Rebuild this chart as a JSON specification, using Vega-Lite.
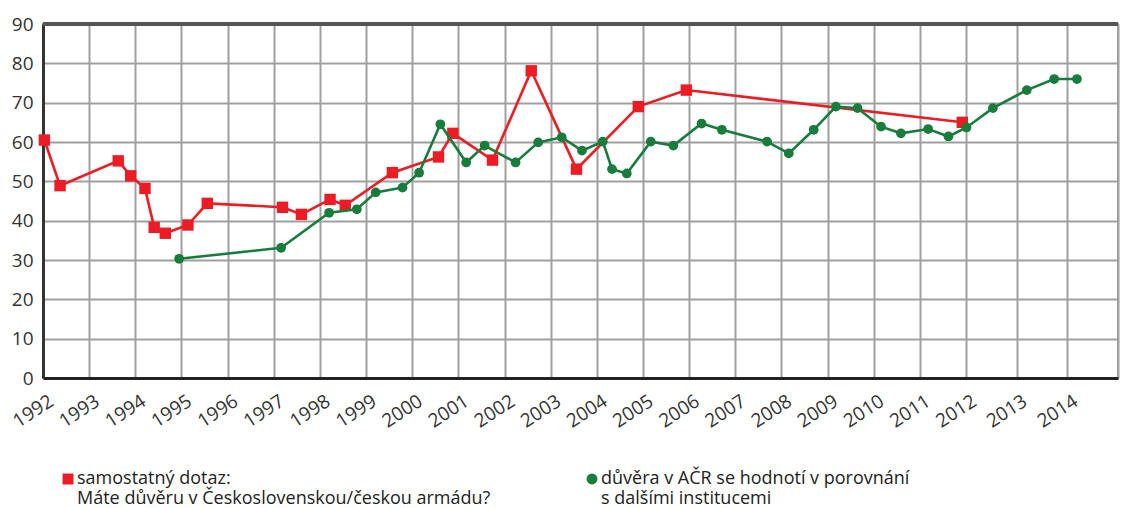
{
  "$schema": "https://vega.github.io/schema/vega-lite/v6.json",
  "width": 1075,
  "height": 354,
  "autosize": {"type": "none"},
  "padding": {"left": 43, "top": 24, "right": 10, "bottom": 130},
  "config": {
    "font": "Open Sans",
    "view": {"stroke": "#a0a0a0", "strokeWidth": 2},
    "axis": {"labelColor": "#333333", "labelFontSize": 19, "gridColor": "#a0a0a0", "gridWidth": 2, "gridOpacity": 1, "ticks": false, "title": null},
    "legend": {"labelColor": "#222222", "labelFontSize": 18, "labelFont": "Open Sans", "labelLimit": 700}
  },
  "datasets": {
    "survey": [
      {"series": "red", "year": 1992.03, "value": 60.5},
      {"series": "red", "year": 1992.37, "value": 48.9},
      {"series": "red", "year": 1993.63, "value": 55.2},
      {"series": "red", "year": 1993.90, "value": 51.4},
      {"series": "red", "year": 1994.21, "value": 48.2},
      {"series": "red", "year": 1994.41, "value": 38.3},
      {"series": "red", "year": 1994.65, "value": 36.8},
      {"series": "red", "year": 1995.14, "value": 38.9},
      {"series": "red", "year": 1995.56, "value": 44.4},
      {"series": "red", "year": 1997.19, "value": 43.4},
      {"series": "red", "year": 1997.60, "value": 41.6},
      {"series": "red", "year": 1998.22, "value": 45.4},
      {"series": "red", "year": 1998.55, "value": 43.9},
      {"series": "red", "year": 1999.57, "value": 52.2},
      {"series": "red", "year": 2000.57, "value": 56.2},
      {"series": "red", "year": 2000.88, "value": 62.2},
      {"series": "red", "year": 2001.74, "value": 55.4},
      {"series": "red", "year": 2002.58, "value": 78.1},
      {"series": "red", "year": 2003.56, "value": 53.1},
      {"series": "red", "year": 2004.90, "value": 69.0},
      {"series": "red", "year": 2005.94, "value": 73.2},
      {"series": "red", "year": 2011.92, "value": 65.0},
      {"series": "green", "year": 1994.95, "value": 30.3},
      {"series": "green", "year": 1997.16, "value": 33.1},
      {"series": "green", "year": 1998.20, "value": 42.0},
      {"series": "green", "year": 1998.80, "value": 42.9},
      {"series": "green", "year": 1999.21, "value": 47.2},
      {"series": "green", "year": 1999.79, "value": 48.4},
      {"series": "green", "year": 2000.15, "value": 52.2},
      {"series": "green", "year": 2000.61, "value": 64.5},
      {"series": "green", "year": 2001.17, "value": 54.8},
      {"series": "green", "year": 2001.57, "value": 59.1},
      {"series": "green", "year": 2002.24, "value": 54.8},
      {"series": "green", "year": 2002.73, "value": 59.9},
      {"series": "green", "year": 2003.24, "value": 61.2},
      {"series": "green", "year": 2003.68, "value": 57.8},
      {"series": "green", "year": 2004.13, "value": 60.1},
      {"series": "green", "year": 2004.33, "value": 53.1},
      {"series": "green", "year": 2004.65, "value": 52.0},
      {"series": "green", "year": 2005.17, "value": 60.1},
      {"series": "green", "year": 2005.66, "value": 59.1},
      {"series": "green", "year": 2006.27, "value": 64.7},
      {"series": "green", "year": 2006.71, "value": 63.1},
      {"series": "green", "year": 2007.69, "value": 60.1},
      {"series": "green", "year": 2008.16, "value": 57.1},
      {"series": "green", "year": 2008.70, "value": 63.1},
      {"series": "green", "year": 2009.18, "value": 69.0},
      {"series": "green", "year": 2009.65, "value": 68.6},
      {"series": "green", "year": 2010.16, "value": 63.9},
      {"series": "green", "year": 2010.59, "value": 62.2},
      {"series": "green", "year": 2011.18, "value": 63.3},
      {"series": "green", "year": 2011.62, "value": 61.4},
      {"series": "green", "year": 2012.01, "value": 63.7},
      {"series": "green", "year": 2012.53, "value": 68.6},
      {"series": "green", "year": 2013.20, "value": 73.2},
      {"series": "green", "year": 2013.74, "value": 76.0},
      {"series": "green", "year": 2014.19, "value": 76.0}
    ]
  },
  "data": {"name": "survey"},
  "encoding": {
    "x": {
      "field": "year", "type": "quantitative",
      "scale": {"domain": [1992, 2012, 2015], "range": [0, 923, 1075], "nice": false, "zero": false},
      "axis": {
        "values": [1992,1993,1994,1995,1996,1997,1998,1999,2000,2001,2002,2003,2004,2005,2006,2007,2008,2009,2010,2011,2012,2013,2014,2015],
        "labelExpr": "datum.value < 2015 ? toString(datum.value) : ''",
        "labelAngle": -33, "labelAlign": "right", "labelBaseline": "middle",
        "labelPadding": 21, "labelOffset": 8, "labelFlush": false, "labelOverlap": false,
        "domainColor": "#222222", "domainWidth": 3
      }
    },
    "y": {
      "field": "value", "type": "quantitative",
      "scale": {"domain": [0, 90], "nice": false},
      "axis": {"values": [0,10,20,30,40,50,60,70,80,90], "labelPadding": 10, "domainColor": "#333333", "domainWidth": 3}
    }
  },
  "layer": [
    {
      "mark": {"type": "rule", "color": "#555555", "strokeWidth": 2.5},
      "encoding": {"y": {"datum": 90}, "x": null}
    },
    {
      "transform": [{"filter": "datum.series == 'red'"}],
      "mark": {"type": "line", "color": "#ed1c24", "strokeWidth": 2.6}
    },
    {
      "transform": [{"filter": "datum.series == 'red'"}],
      "mark": {"type": "point", "filled": true, "opacity": 1, "size": 130},
      "encoding": {
        "color": {"field": "series", "type": "nominal", "scale": {"domain": ["red", "green"], "range": ["#ed1c24", "#177c3c"]},
          "legend": {"title": null, "orient": "none", "legendX": 16, "legendY": 446, "direction": "horizontal", "columns": 2, "columnPadding": 92, "symbolSize": 120, "labelOffset": 0,
            "labelExpr": "datum.value == 'red' ? ['samostatný dotaz:', '\u00a0Máte důvěru v Československou/českou armádu?'] : ['důvěra v AČR se hodnotí v porovnání', 's dalšími institucemi']"}},
        "shape": {"field": "series", "type": "nominal", "scale": {"domain": ["red", "green"], "range": ["square", "circle"]}}
      }
    },
    {
      "transform": [{"filter": "datum.series == 'green'"}],
      "mark": {"type": "line", "color": "#177c3c", "strokeWidth": 2.6}
    },
    {
      "transform": [{"filter": "datum.series == 'green'"}],
      "mark": {"type": "point", "filled": true, "opacity": 1, "size": 95},
      "encoding": {
        "color": {"field": "series", "type": "nominal"},
        "shape": {"field": "series", "type": "nominal"}
      }
    }
  ]
}
